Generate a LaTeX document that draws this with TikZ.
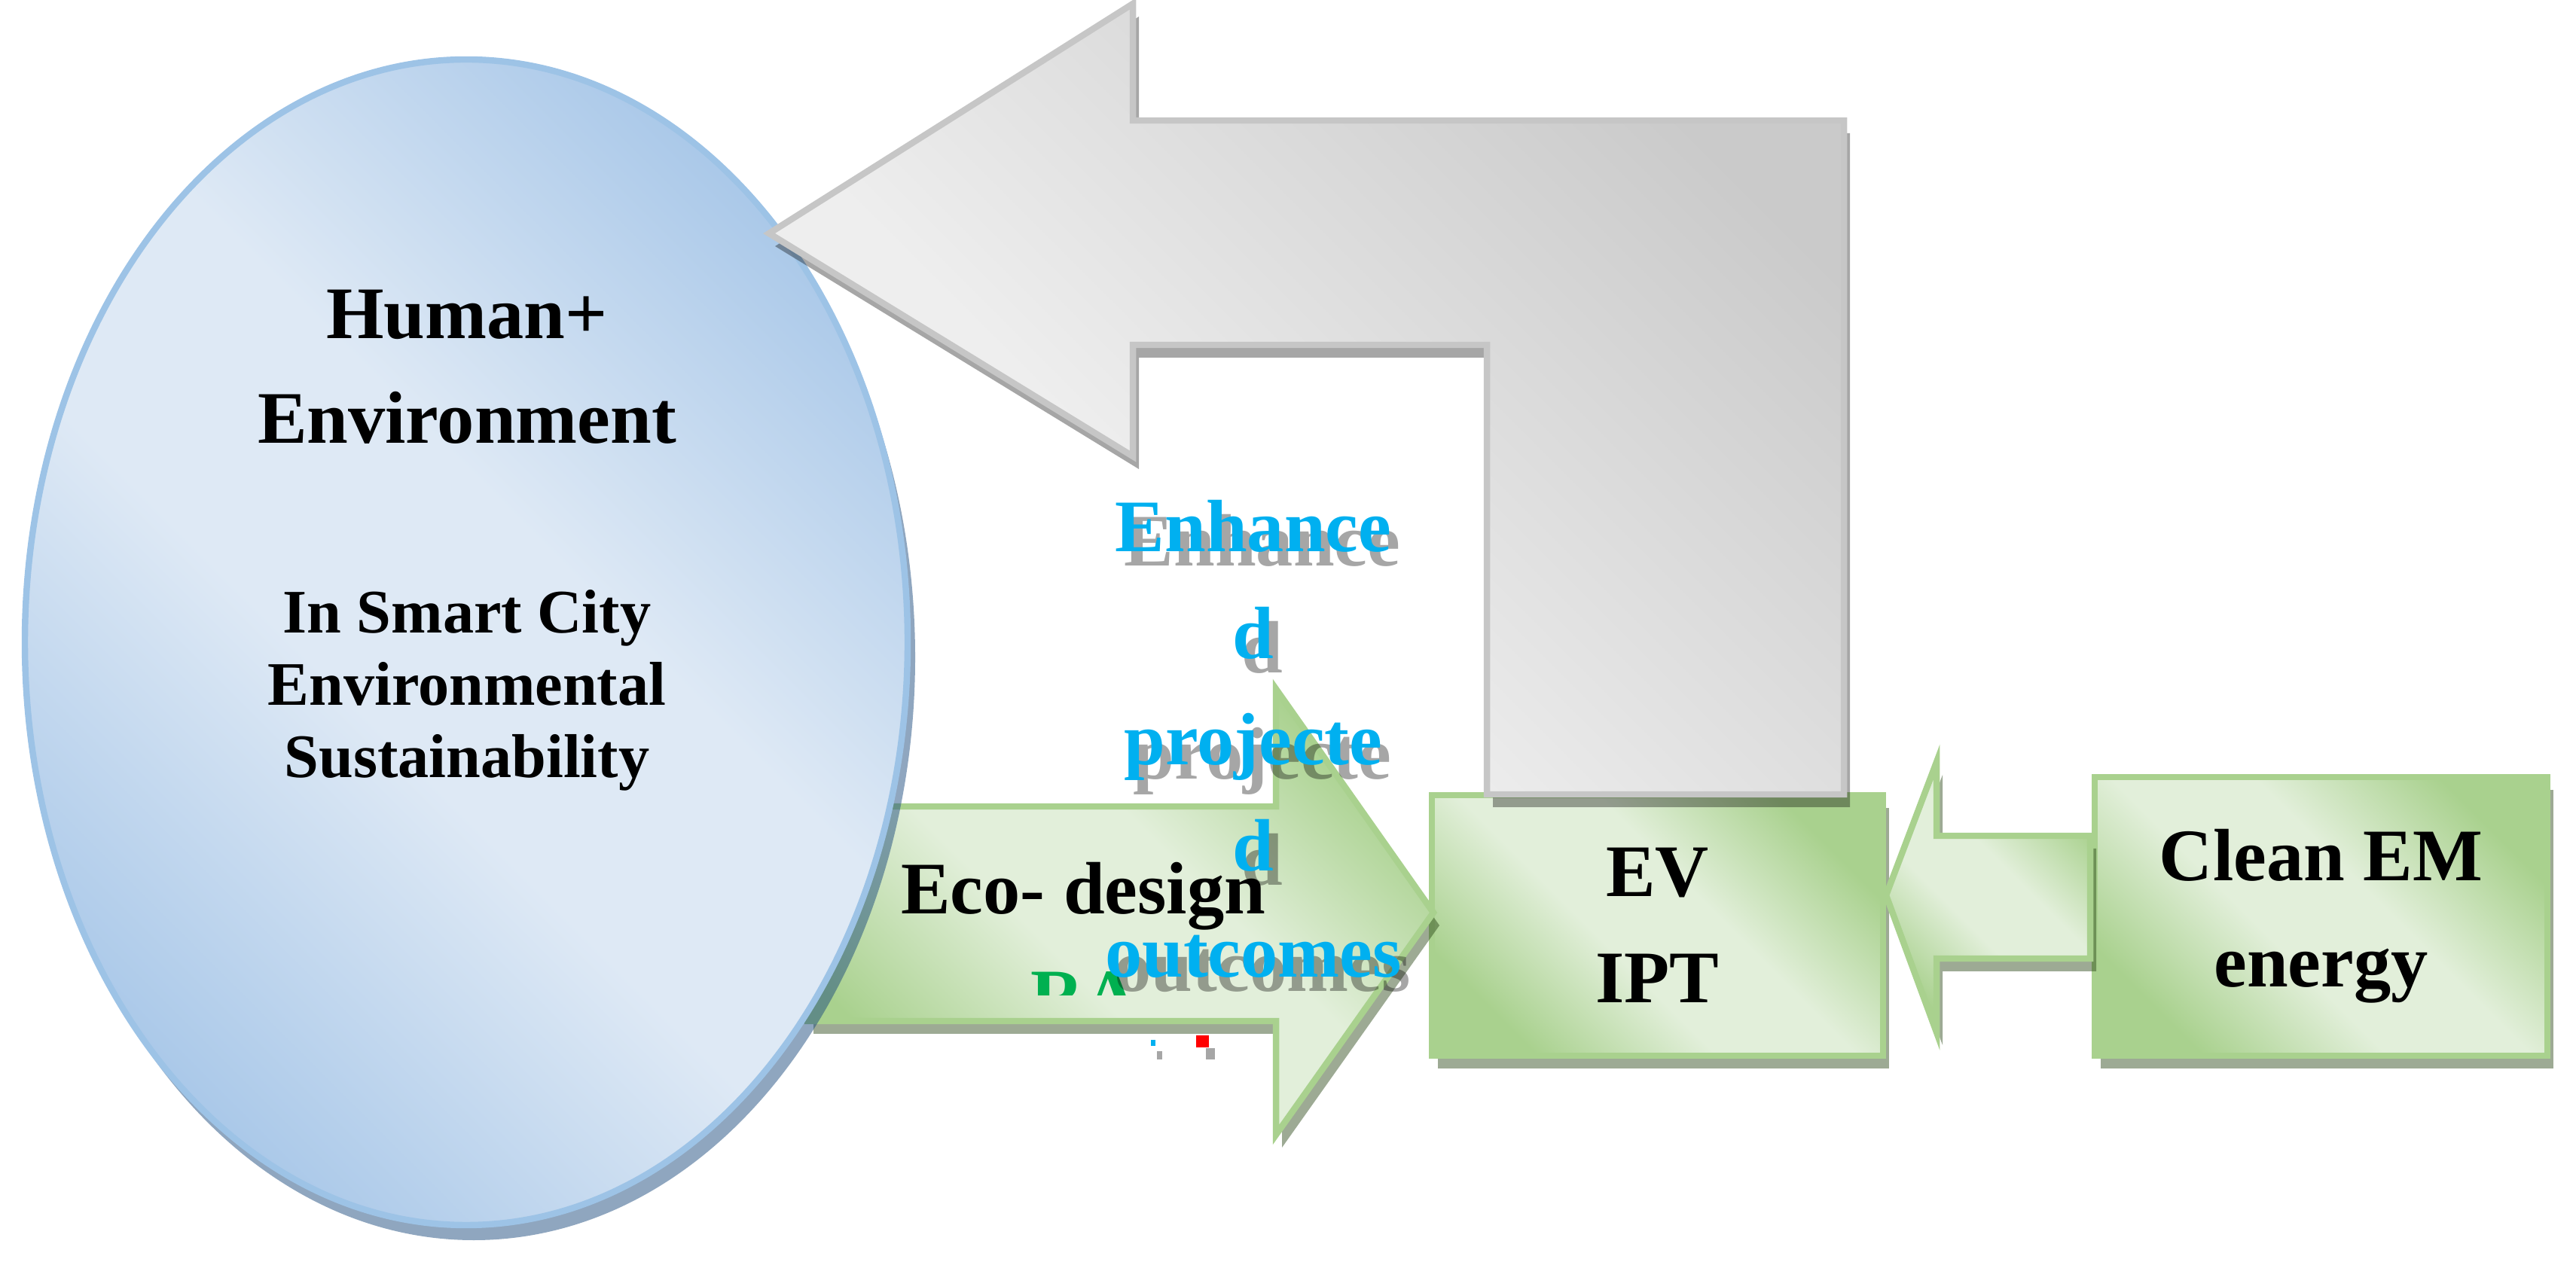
\documentclass[tikz,border=0pt]{standalone}
\usepackage{fontspec}
\setmainfont{Liberation Serif}
\usetikzlibrary{shapes.geometric,shadows}
\definecolor{blulight}{HTML}{DEE9F5}
\definecolor{bludark}{HTML}{ABC9E9}
\definecolor{bluline}{HTML}{9DC3E6}
\definecolor{blushade}{RGB}{31,77,127}
\definecolor{grnlight}{HTML}{E2EFDA}
\definecolor{grndark}{HTML}{A9D18E}
\definecolor{grnline}{HTML}{A9D18E}
\definecolor{grnshade}{RGB}{38,67,18}
\definecolor{graylight}{HTML}{EEEEEE}
\definecolor{graydark}{HTML}{CACACA}
\definecolor{grayline}{HTML}{C6C6C6}
\definecolor{cyantext}{HTML}{00B0F0}
\definecolor{grntext}{HTML}{00B050}
\pgfdeclareverticalshading{grnshd}{100bp}{color(0bp)=(grndark); color(25bp)=(grndark); color(43bp)=(grnlight); color(57bp)=(grnlight); color(75bp)=(grndark); color(100bp)=(grndark)}
\pgfdeclareverticalshading{blushd}{100bp}{color(0bp)=(bludark); color(25bp)=(bludark); color(44bp)=(blulight); color(56bp)=(blulight); color(75bp)=(bludark); color(100bp)=(bludark)}
\pgfdeclareverticalshading{grayshd}{100bp}{color(0bp)=(graylight); color(40bp)=(graylight); color(75bp)=(graydark); color(100bp)=(graydark)}

\begin{document}
\begin{tikzpicture}
\tikzset{grnpart/.style={draw=grnline, line width=1.2pt, shade, shading=grnshd, shading angle=-45, drop shadow={shadow xshift=0.04cm, shadow yshift=-0.085cm, fill=grnshade, opacity=0.45}}}
\tikzset{grnbox/.style={grnpart, rectangle, inner sep=0pt, align=center, font=\fontsize{14}{20.1}\selectfont\bfseries}}
\tikzset{humnode/.style={ellipse, draw=bluline, line width=1.2pt, shade, shading=blushd, shading angle=-45, drop shadow={shadow xshift=0.05cm, shadow yshift=-0.1cm, fill=blushade, opacity=0.5}}}
\tikzset{grayarrow/.style={draw=grayline, line width=1.2pt, shade, shading=grayshd, shading angle=-45, drop shadow={shadow xshift=0.04cm, shadow yshift=-0.085cm, fill=black, opacity=0.35}}}
\tikzset{txt/.style={anchor=base, align=center, inner sep=0pt, font=\fontsize{14}{19.8}\selectfont\bfseries}}
\tikzset{cyantxt/.style={txt, text=cyantext, font=\fontsize{14}{20.1}\selectfont\bfseries}}
\tikzset{cyanshade/.style={cyantxt, text=black, text opacity=0.35}}
\useasboundingbox (0,0) rectangle (17.1,8.375);
\node[grnbox, minimum width=2.995cm, minimum height=1.73cm] (ev) at (11.0025,2.23) {EV\\IPT};
\node[grnbox, minimum width=3.005cm, minimum height=1.85cm] (clean) at (15.4075,2.29) {Clean EM\\energy};
\coordinate (tipev) at (12.52,2.43);
\draw[grnpart] (tipev) -- (12.855,3.315) -- (12.855,2.825) -- (13.875,2.825) -- (13.875,2.01) -- (12.855,2.01) -- (12.855,1.52) -- cycle;
\coordinate (tipeco) at (9.515,2.315);
\draw[grnpart] (5.36,3.02) -- (8.47,3.02) -- (8.47,3.80) -- (tipeco) -- (8.47,0.84) -- (8.47,1.595) -- (5.36,1.595) -- cycle;
\node[humnode, minimum width=5.86cm, minimum height=7.74cm] (hum) at (3.095,4.11) {};
\coordinate (tiphum) at (5.105,6.825);
\draw[grayarrow] (tiphum) -- (7.52,8.35) -- (7.52,7.575) -- (12.24,7.575) -- (12.24,3.10) -- (9.87,3.10) -- (9.87,6.085) -- (7.52,6.085) -- (7.52,5.345) -- cycle;
\node[txt] (humtitle) at (3.1,5.43) {Human+\\Environment};
\node[txt, font=\fontsize{11.7}{13.7}\selectfont\bfseries] (humsub) at (3.1,3.21) {In Smart City\\Environmental\\Sustainability};
\node[txt] (eco) at (7.19,2.305) {Eco- design};
\begin{scope}
\clip (6.5,1.765) rectangle (8.0,2.2);
\node[txt, text=grntext] (ra) at (7.2,1.595) {RA};
\end{scope}
\fill[black, opacity=0.35] (8.005,1.34) rectangle (8.065,1.415);
\fill[red] (7.94,1.42) rectangle (8.025,1.5);
\fill[black, opacity=0.35] (7.68,1.34) rectangle (7.715,1.395);
\fill[cyantext] (7.64,1.43) rectangle (7.67,1.47);
\node[cyanshade] (enhshadow) at (8.38,1.79) {Enhance\\d\\projecte\\d\\outcomes};
\node[cyantxt] (enh) at (8.32,1.885) {Enhance\\d\\projecte\\d\\outcomes};
\end{tikzpicture}
\end{document}
